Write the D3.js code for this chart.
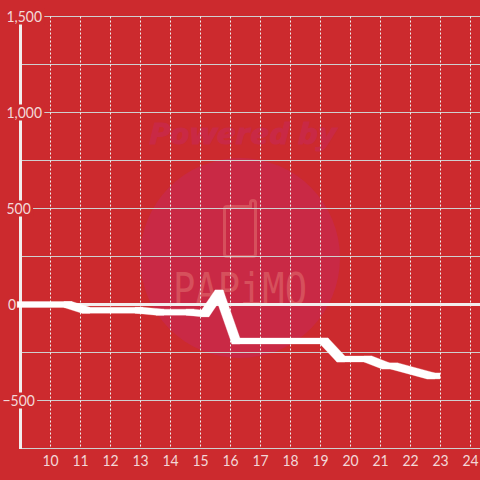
<!DOCTYPE html>
<html lang="en">
<head>
<meta charset="UTF-8">
<title>Line chart</title>
<script src="https://d3js.org/d3.v7.min.js"></script>
<style>
    html, body { margin: 0; padding: 0; background: #cc2a2e; }
    svg { display: block; }
</style>
</head>
<body>
<div id="chart"></div>
<script>
    // values
    var hours = [9.02, 10.58, 11.18, 12.95, 13.65, 14.65, 15.15, 15.62, 16.18, 19.12, 19.68, 20.58, 21.18, 21.45, 22.68, 22.85];
    var values = [0, 0, -30, -30, -40, -40, -48, 60, -190, -190, -284, -284, -320, -320, -372, -372];
    var xTicks = [10, 11, 12, 13, 14, 15, 16, 17, 18, 19, 20, 21, 22, 23, 24];
    var yGrid = [1500, 1250, 1000, 750, 500, 250, -250, -500, -750];
    var yLabels = [1500, 1000, 500, 0, -500];

    var width = 480, height = 480, font = "Lato, sans-serif";
    var x = d3.scaleLinear().domain([9, 24]).range([20.5, 470.5]);
    var y = d3.scaleLinear().domain([1500, -750]).range([16.5, 448.5]);

    // labels in the reference are a bit narrower than Lato at this height
    function squeeze(sel) {
        sel.each(function () {
            d3.select(this)
                .attr("textLength", this.getComputedTextLength() * 0.93)
                .attr("lengthAdjust", "spacingAndGlyphs");
        });
    }

    var svg = d3.select("#chart").append("svg").attr("width", width).attr("height", height);
    svg.append("rect").attr("width", width).attr("height", height).attr("fill", "#cc2a2e");

    // watermark
    var mark = svg.append("g");
    mark.append("circle").attr("cx", 240).attr("cy", 258).attr("r", 100).attr("fill", "#c92945");
    mark.append("text").attr("x", 149).attr("y", 144)
        .style("font-family", "'Open Sans', sans-serif")
        .attr("font-size", 29).attr("font-weight", "bold").attr("font-style", "italic")
        .attr("textLength", 187).attr("lengthAdjust", "spacingAndGlyphs")
        .attr("fill", "#c92945").attr("stroke", "#c92945").attr("stroke-width", 1)
        .text("Powered by");
    mark.append("path")
        .attr("d", "M227 206.5H250.5V203Q250.5 200.5 253 200.5Q255.5 200.5 255.5 203V254Q255.5 256.5 253 256.5H227Q224.5 256.5 224.5 254V209Q224.5 206.5 227 206.5Z")
        .attr("fill", "none").attr("stroke", "#d6505c").attr("stroke-width", 3);
    mark.append("text").attr("x", 173).attr("y", 305)
        .style("font-family", "'DejaVu Sans Mono', monospace")
        .attr("font-size", 44)
        .attr("textLength", 134).attr("lengthAdjust", "spacingAndGlyphs")
        .attr("fill", "#d6505c")
        .text("PAPiMO");

    // grid
    svg.append("g").selectAll("line").data(yGrid).enter().append("line")
        .attr("x1", x(9)).attr("x2", width)
        .attr("y1", function (d) { return y(d); }).attr("y2", function (d) { return y(d); })
        .attr("stroke", "#cfcfcf").attr("stroke-width", 1);
    svg.append("g").selectAll("line").data(xTicks).enter().append("line")
        .attr("x1", function (d) { return x(d); }).attr("x2", function (d) { return x(d); })
        .attr("y1", y(1500)).attr("y2", y(-750))
        .attr("stroke", "#f0f0f0").attr("stroke-width", 1).attr("stroke-dasharray", "2,2");

    // axis lines
    svg.append("line").attr("x1", x(9)).attr("x2", width).attr("y1", y(0)).attr("y2", y(0))
        .attr("stroke", "#f2eeee").attr("stroke-width", 3);
    svg.append("line").attr("x1", x(9)).attr("x2", x(9)).attr("y1", y(1500)).attr("y2", y(-750) + 0.5)
        .attr("stroke", "#f2eeee").attr("stroke-width", 3);

    // y labels sit on a patch of background
    var labelLeft = function (d) { return d === 0 ? 8 : (d < 0 ? 2.5 : 6.5); };
    var yLab = svg.append("g").selectAll("g").data(yLabels).enter().append("g");
    var yText = yLab.append("text")
        .attr("x", labelLeft)
        .attr("y", function (d) { return y(d) + 5; })
        .style("font-family", font)
        .attr("font-size", 15).attr("fill", "#f3d8d8")
        .text(function (d) { return d3.format(",")(d); })
        .call(squeeze);
    yLab.insert("rect", "text").each(function (d, i) {
        var b = yText.nodes()[i].getBBox();
        d3.select(this).attr("x", 0).attr("y", y(d) - 8)
            .attr("width", b.x + b.width + 2).attr("height", 16)
            .attr("fill", "#cc2a2e");
    });

    // x labels
    svg.append("g").selectAll("text").data(xTicks).enter().append("text")
        .attr("x", function (d) { return x(d); }).attr("y", 466)
        .attr("text-anchor", "middle")
        .style("font-family", font)
        .attr("font-size", 15).attr("fill", "#f3d8d8")
        .text(function (d) { return d; })
        .call(squeeze);

    // series: the line is drawn with a flat box brush, so steep parts come out wide
    var brushX = 4, brushY = 3;
    var seg = svg.append("g");
    d3.pairs(d3.range(hours.length)).forEach(function (p) {
        var corners = [];
        p.forEach(function (i) {
            [-brushX, brushX].forEach(function (dx) {
                [-brushY, brushY].forEach(function (dy) {
                    corners.push([x(hours[i]) + dx, y(values[i]) + dy]);
                });
            });
        });
        seg.append("path")
            .attr("d", "M" + d3.polygonHull(corners).join("L") + "Z")
            .attr("fill", "#ffffff").attr("stroke", "#ffffff").attr("stroke-width", 0.3);
    });
</script>
</body>
</html>
